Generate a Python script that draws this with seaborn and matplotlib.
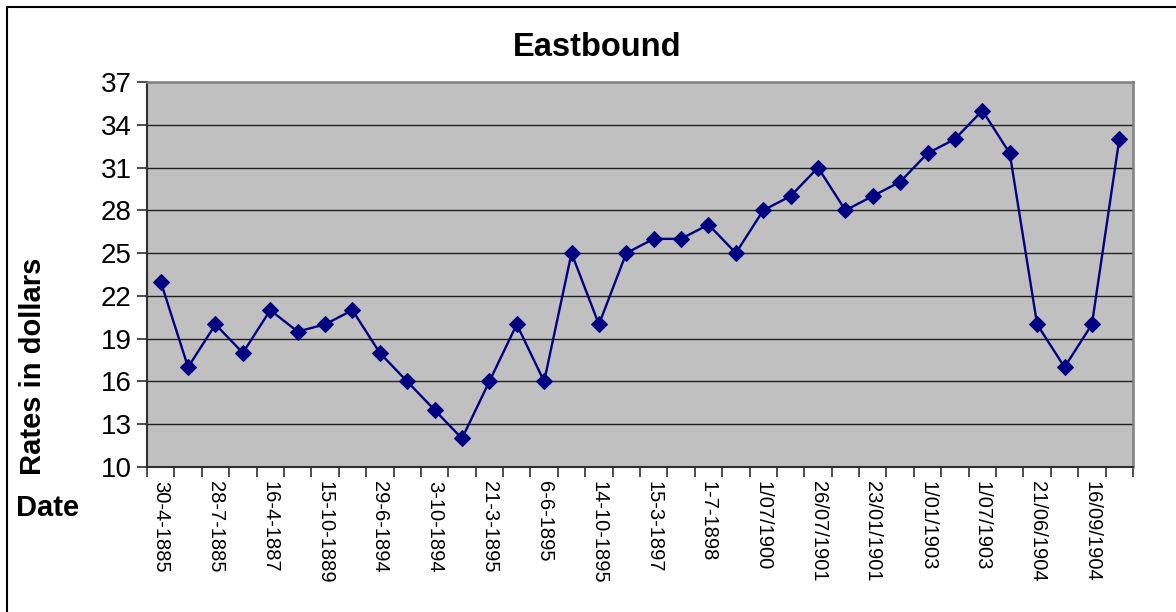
import numpy as np
import pandas as pd
import matplotlib
matplotlib.use("Agg")
import matplotlib.pyplot as plt
from matplotlib.lines import Line2D
import seaborn as sns

# Data
rates = [23, 17, 20, 18, 21, 19.5, 20, 21, 18, 16, 14, 12, 16, 20, 16, 25, 20, 25,
         26, 26, 27, 25, 28, 29, 31, 28, 29, 30, 32, 33, 35, 32, 20, 17, 20, 33]
tick_labels = ["30-4-1885", "28-7-1885", "16-4-1887", "15-10-1889", "29-6-1894",
               "3-10-1894", "21-3-1895", "6-6-1895", "14-10-1895", "15-3-1897",
               "1-7-1898", "1/07/1900", "26/07/1901", "23/01/1901", "1/01/1903",
               "1/07/1903", "21/06/1904", "16/09/1904"]
y_ticks = [10, 13, 16, 19, 22, 25, 28, 31, 34, 37]

sns.set_theme(style="white")
plt.rcParams['font.family'] = ['Liberation Sans', 'DejaVu Sans']
plt.rcParams['text.color'] = 'black'
plt.rcParams['xtick.color'] = 'black'
plt.rcParams['ytick.color'] = 'black'
plt.rcParams['axes.labelcolor'] = 'black'

df = pd.DataFrame({"pos": np.arange(len(rates)), "rate": rates})

fig = plt.figure(figsize=(11.76, 6.12), dpi=100)
ax = fig.add_axes([147 / 1176, 1 - 467 / 612, (1133 - 147) / 1176, (467 - 82) / 612])
ax.set_facecolor("#C0C0C0")

for yv in y_ticks[1:-1]:
    ax.axhline(yv, color="#202020", lw=1.0, zorder=1)

sns.lineplot(data=df, x="pos", y="rate", ax=ax, color="#000080", lw=1.7,
             marker="D", markersize=8.5, markeredgecolor="#000080", sort=False, zorder=3)

n = len(rates)
ax.set_xlim(-0.5, n - 0.5)
ax.set_ylim(y_ticks[0], y_ticks[-1])
ax.set_yticks(y_ticks)
ax.set_yticklabels([str(v) for v in y_ticks], fontsize=20, color="black")
ax.set_xticks(np.arange(0, n, 2))
ax.set_xticklabels(tick_labels, rotation=270, fontsize=14.5, va="top", ha="center",
                   color="black")
ax.set_xticks(np.arange(-0.5, n, 1), minor=True)
ax.tick_params(axis="x", which="major", length=0, pad=10)
ax.tick_params(axis="x", which="minor", length=7, width=1.2, color="#303030", bottom=True)
ax.tick_params(axis="y", which="major", length=7, width=1.2, color="#303030", left=True, pad=4)
ax.set_xlabel("")
ax.set_ylabel("")

for side in ["left", "bottom"]:
    ax.spines[side].set_color("#303030")
    ax.spines[side].set_linewidth(1.5)
for side in ["top", "right"]:
    ax.spines[side].set_color("#808080")
    ax.spines[side].set_linewidth(1.8)
    ax.spines[side].set_visible(True)

fig.text(597 / 1176, 1 - 47 / 612, "Eastbound", fontsize=23.5, fontweight="bold",
         ha="center", va="center", color="black")
fig.text(33 / 1176, 1 - 366 / 612, "Rates in dollars", fontsize=21, fontweight="bold",
         rotation=90, ha="center", va="center", color="black")
fig.text(48 / 1176, 1 - 508 / 612, "Date", fontsize=21, fontweight="bold",
         ha="center", va="center", color="black")

# Outer chart frame (top and left edges visible in the reference)
fig.add_artist(Line2D([7 / 1176, 1.0], [1 - 7 / 612, 1 - 7 / 612], color="black", lw=1.5,
                      transform=fig.transFigure))
fig.add_artist(Line2D([7 / 1176, 7 / 1176], [0, 1 - 7 / 612], color="black", lw=1.5,
                      transform=fig.transFigure))

fig.savefig("out.png", dpi=100, facecolor="white")
